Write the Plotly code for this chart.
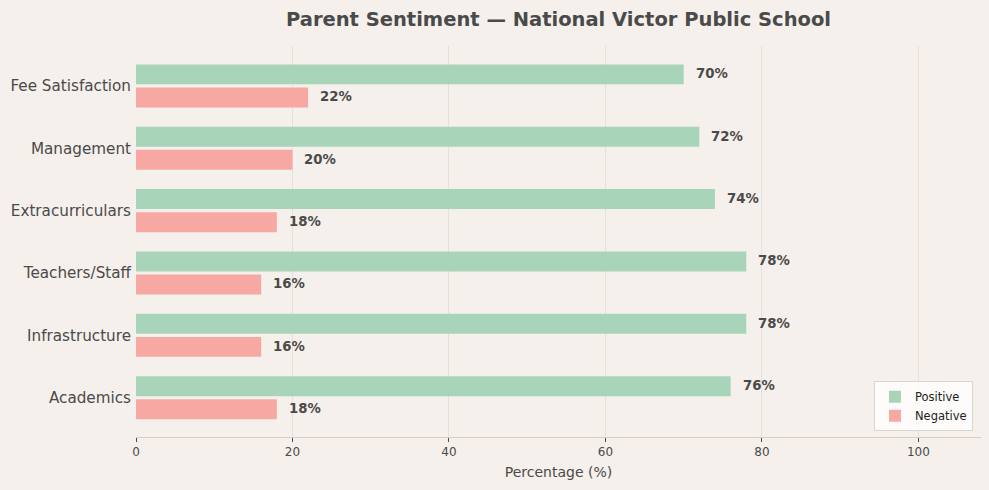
import plotly.graph_objects as go

categories = ["Academics", "Infrastructure", "Teachers/Staff", "Extracurriculars", "Management", "Fee Satisfaction"]
positive = [76, 78, 78, 74, 72, 70]
negative = [18, 16, 16, 18, 20, 22]
x_ticks = [0, 20, 40, 60, 80, 100]

BG = "#f5f0eb"
TEXT = "#4a4a4a"
POS_C = "#a8d5ba"
NEG_C = "#f7a8a3"

fig = go.Figure()
fig.add_trace(go.Bar(y=categories, x=positive, orientation="h", name="Positive",
                     marker=dict(color=POS_C, line=dict(width=0)), offset=0.025, width=0.32))
fig.add_trace(go.Bar(y=categories, x=negative, orientation="h", name="Negative",
                     marker=dict(color=NEG_C, line=dict(width=0)), offset=-0.345, width=0.32))

annotations = []
for c, p, n in zip(categories, positive, negative):
    annotations.append(dict(x=p, y=c, yshift=12, text=f"<b>{p}%</b>", showarrow=False,
                            xanchor="left", xshift=10, font=dict(size=13.3, color=TEXT)))
    annotations.append(dict(x=n, y=c, yshift=-11, text=f"<b>{n}%</b>", showarrow=False,
                            xanchor="left", xshift=10, font=dict(size=13.3, color=TEXT)))

fig.update_layout(
    width=989, height=490,
    paper_bgcolor=BG, plot_bgcolor=BG,
    margin=dict(l=136, r=8, t=46, b=53),
    barmode="overlay",
    font=dict(family="DejaVu Sans", color=TEXT),
    title=dict(text="<b>Parent Sentiment — National Victor Public School</b>", x=0.5, xref="paper",
               y=0.961, yanchor="middle", font=dict(size=19.5, color=TEXT)),
    xaxis=dict(range=[0, 108], tickvals=x_ticks, showgrid=True, gridcolor="#e6e0d8", gridwidth=1,
               zeroline=False, showline=True, linecolor="#d8cfc4", linewidth=1,
               ticks="outside", ticklen=4, tickcolor=TEXT, tickfont=dict(size=12, color=TEXT),
               title=dict(text="Percentage (%)", font=dict(size=14, color=TEXT), standoff=8)),
    yaxis=dict(type="category", categoryorder="array", categoryarray=categories,
               range=[-0.63, 5.64], showgrid=False, zeroline=False, showline=False,
               ticks="", tickfont=dict(size=15.2, color=TEXT), ticklabelstandoff=4),
    legend=dict(x=0.9905, y=0.015, xanchor="right", yanchor="bottom", bgcolor="rgba(255,255,255,0.8)",
                bordercolor="#dcd6ce", borderwidth=1, font=dict(size=11.5, color="#222222"),
                itemwidth=30, tracegroupgap=0),
    annotations=annotations,
    showlegend=True,
)

fig.write_html("out.html", config={"displayModeBar": False},
               post_script="document.body.style.margin='0';document.body.style.padding='0';")
